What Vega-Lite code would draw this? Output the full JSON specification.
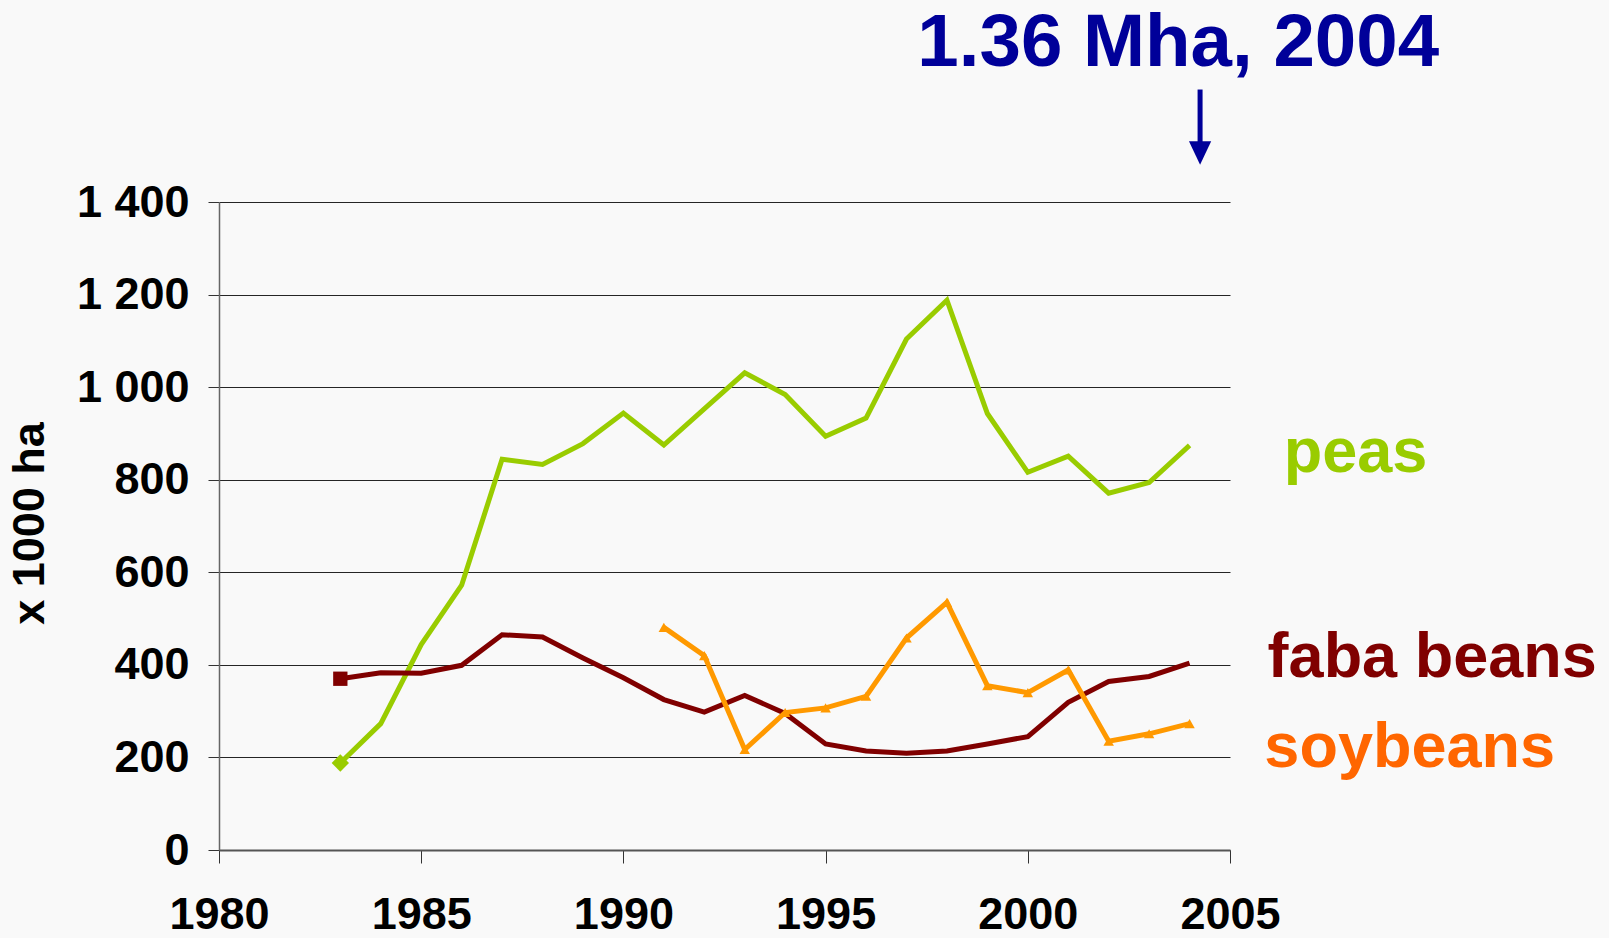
{
  "$schema": "https://vega.github.io/schema/vega-lite/v6.json",
  "width": 1011,
  "height": 648,
  "autosize": "none",
  "padding": {"left": 219, "top": 202, "right": 379, "bottom": 88},
  "background": "#F9F9F9",
  "config": {"view": {"stroke": null}, "font": "Liberation Sans"},
  "datasets": {
    "crops": [
      {"crop": "peas", "year": 1983, "value": 188},
      {"crop": "peas", "year": 1984, "value": 273},
      {"crop": "peas", "year": 1985, "value": 444},
      {"crop": "peas", "year": 1986, "value": 572},
      {"crop": "peas", "year": 1987, "value": 844},
      {"crop": "peas", "year": 1988, "value": 833},
      {"crop": "peas", "year": 1989, "value": 878},
      {"crop": "peas", "year": 1990, "value": 944},
      {"crop": "peas", "year": 1991, "value": 875},
      {"crop": "peas", "year": 1992, "value": 953},
      {"crop": "peas", "year": 1993, "value": 1031},
      {"crop": "peas", "year": 1994, "value": 984},
      {"crop": "peas", "year": 1995, "value": 894},
      {"crop": "peas", "year": 1996, "value": 933},
      {"crop": "peas", "year": 1997, "value": 1104},
      {"crop": "peas", "year": 1998, "value": 1188},
      {"crop": "peas", "year": 1999, "value": 943},
      {"crop": "peas", "year": 2000, "value": 816},
      {"crop": "peas", "year": 2001, "value": 851},
      {"crop": "peas", "year": 2002, "value": 771},
      {"crop": "peas", "year": 2003, "value": 794},
      {"crop": "peas", "year": 2004, "value": 874},
      {"crop": "faba beans", "year": 1983, "value": 370},
      {"crop": "faba beans", "year": 1984, "value": 383},
      {"crop": "faba beans", "year": 1985, "value": 382},
      {"crop": "faba beans", "year": 1986, "value": 399},
      {"crop": "faba beans", "year": 1987, "value": 465},
      {"crop": "faba beans", "year": 1988, "value": 460},
      {"crop": "faba beans", "year": 1989, "value": 415},
      {"crop": "faba beans", "year": 1990, "value": 372},
      {"crop": "faba beans", "year": 1991, "value": 325},
      {"crop": "faba beans", "year": 1992, "value": 298},
      {"crop": "faba beans", "year": 1993, "value": 334},
      {"crop": "faba beans", "year": 1994, "value": 295},
      {"crop": "faba beans", "year": 1995, "value": 229},
      {"crop": "faba beans", "year": 1996, "value": 214},
      {"crop": "faba beans", "year": 1997, "value": 209},
      {"crop": "faba beans", "year": 1998, "value": 214},
      {"crop": "faba beans", "year": 1999, "value": 229},
      {"crop": "faba beans", "year": 2000, "value": 245},
      {"crop": "faba beans", "year": 2001, "value": 319},
      {"crop": "faba beans", "year": 2002, "value": 364},
      {"crop": "faba beans", "year": 2003, "value": 375},
      {"crop": "faba beans", "year": 2004, "value": 404},
      {"crop": "soybeans", "year": 1991, "value": 481},
      {"crop": "soybeans", "year": 1992, "value": 420},
      {"crop": "soybeans", "year": 1993, "value": 217},
      {"crop": "soybeans", "year": 1994, "value": 297},
      {"crop": "soybeans", "year": 1995, "value": 307},
      {"crop": "soybeans", "year": 1996, "value": 332},
      {"crop": "soybeans", "year": 1997, "value": 458},
      {"crop": "soybeans", "year": 1998, "value": 535},
      {"crop": "soybeans", "year": 1999, "value": 355},
      {"crop": "soybeans", "year": 2000, "value": 340},
      {"crop": "soybeans", "year": 2001, "value": 389},
      {"crop": "soybeans", "year": 2002, "value": 235},
      {"crop": "soybeans", "year": 2003, "value": 251},
      {"crop": "soybeans", "year": 2004, "value": 273}
    ],
    "labels": [
      {"label": "peas", "year": 2006.33, "value": 817},
      {"label": "faba beans", "year": 2005.93, "value": 373},
      {"label": "soybeans", "year": 2005.85, "value": 179}
    ],
    "headline": [
      {"text": "1.36 Mha, 2004", "year": 2003.72, "value": 1693}
    ],
    "arrow": [
      {"year": 2004.26, "value": 1643, "value2": 1520, "tip": 1506}
    ]
  },
  "layer": [
    {
      "data": {"name": "crops"},
      "mark": {"type": "line", "strokeWidth": 5},
      "encoding": {
        "x": {
          "field": "year", "type": "quantitative",
          "scale": {"domain": [1980, 2005], "nice": false, "zero": false},
          "axis": {
            "title": null,
            "values": [1980, 1985, 1990, 1995, 2000, 2005],
            "format": "d",
            "grid": false,
            "labelFont": "Liberation Sans",
            "labelFontSize": 45,
            "labelFontWeight": "bold",
            "labelColor": "#000000",
            "labelPadding": 29,
            "labelFlush": false,
            "labelOverlap": false,
            "tickSize": 13,
            "tickColor": "#333333",
            "tickWidth": 1,
            "domainColor": "#555555",
            "domainWidth": 2
          }
        },
        "y": {
          "field": "value", "type": "quantitative",
          "scale": {"domain": [0, 1400], "nice": false, "zero": true},
          "axis": {
            "title": "x 1000 ha",
            "titleFont": "Liberation Sans",
            "titleFontSize": 45,
            "titleFontWeight": "bold",
            "titleColor": "#000000",
            "titleAngle": 270,
            "titleAlign": "center",
            "titleBaseline": "bottom",
            "titleX": -167,
            "titleY": 321,
            "values": [0, 200, 400, 600, 800, 1000, 1200, 1400],
            "labelExpr": "replace(format(datum.value, ','), ',', ' ')",
            "labelFont": "Liberation Sans",
            "labelFontSize": 45,
            "labelFontWeight": "bold",
            "labelColor": "#000000",
            "labelPadding": 19,
            "labelFlush": false,
            "tickSize": 11,
            "tickColor": "#333333",
            "domainColor": "#666666",
            "domainWidth": 1.5,
            "grid": true,
            "gridColor": "#000000",
            "gridWidth": 1,
            "gridOpacity": 0.85
          }
        },
        "color": {
          "field": "crop", "type": "nominal",
          "scale": {"domain": ["peas", "faba beans", "soybeans"], "range": ["#99CC00", "#800000", "#FF9900"]},
          "legend": null
        },
        "order": {"field": "year", "type": "quantitative"}
      }
    },
    {
      "data": {"name": "crops"},
      "transform": [{"filter": "datum.crop === 'soybeans' || datum.year === 1983"}],
      "mark": {"type": "point", "filled": true, "opacity": 1},
      "encoding": {
        "x": {"field": "year", "type": "quantitative", "scale": {"domain": [1980, 2005], "nice": false, "zero": false}},
        "y": {"field": "value", "type": "quantitative", "scale": {"domain": [0, 1400], "nice": false, "zero": true}},
        "color": {
          "field": "crop", "type": "nominal",
          "scale": {"domain": ["peas", "faba beans", "soybeans"], "range": ["#99CC00", "#800000", "#FF9900"]},
          "legend": null
        },
        "shape": {
          "field": "crop", "type": "nominal",
          "scale": {"domain": ["peas", "faba beans", "soybeans"], "range": ["diamond", "square", "triangle-up"]},
          "legend": null
        },
        "size": {
          "field": "crop", "type": "nominal",
          "scale": {"domain": ["peas", "faba beans", "soybeans"], "range": [300, 110, 190]},
          "legend": null
        }
      }
    },
    {
      "data": {"name": "labels"},
      "mark": {"type": "text", "align": "left", "baseline": "alphabetic", "font": "Liberation Sans", "fontSize": 63, "fontWeight": "bold"},
      "encoding": {
        "x": {"field": "year", "type": "quantitative", "scale": {"domain": [1980, 2005], "nice": false, "zero": false}},
        "y": {"field": "value", "type": "quantitative", "scale": {"domain": [0, 1400], "nice": false, "zero": true}},
        "text": {"field": "label"},
        "color": {
          "field": "label", "type": "nominal",
          "scale": {"domain": ["peas", "faba beans", "soybeans"], "range": ["#99CC00", "#800000", "#FF6600"]},
          "legend": null
        }
      }
    },
    {
      "data": {"name": "headline"},
      "mark": {"type": "text", "align": "center", "baseline": "alphabetic", "font": "Liberation Sans", "fontSize": 74.5, "fontWeight": "bold", "color": "#000099"},
      "encoding": {
        "x": {"field": "year", "type": "quantitative", "scale": {"domain": [1980, 2005], "nice": false, "zero": false}},
        "y": {"field": "value", "type": "quantitative", "scale": {"domain": [0, 1400], "nice": false, "zero": true}},
        "text": {"field": "text"}
      }
    },
    {
      "data": {"name": "arrow"},
      "mark": {"type": "rule", "strokeWidth": 5, "color": "#000099"},
      "encoding": {
        "x": {"field": "year", "type": "quantitative", "scale": {"domain": [1980, 2005], "nice": false, "zero": false}},
        "y": {"field": "value", "type": "quantitative", "scale": {"domain": [0, 1400], "nice": false, "zero": true}},
        "y2": {"field": "value2"}
      }
    },
    {
      "data": {"name": "arrow"},
      "mark": {"type": "point", "filled": true, "opacity": 1, "color": "#000099", "shape": "M-0.95,-1L0.95,-1L0,1Z", "size": 547},
      "encoding": {
        "x": {"field": "year", "type": "quantitative", "scale": {"domain": [1980, 2005], "nice": false, "zero": false}},
        "y": {"field": "tip", "type": "quantitative", "scale": {"domain": [0, 1400], "nice": false, "zero": true}}
      }
    }
  ],
  "resolve": {"scale": {"color": "independent"}}
}
